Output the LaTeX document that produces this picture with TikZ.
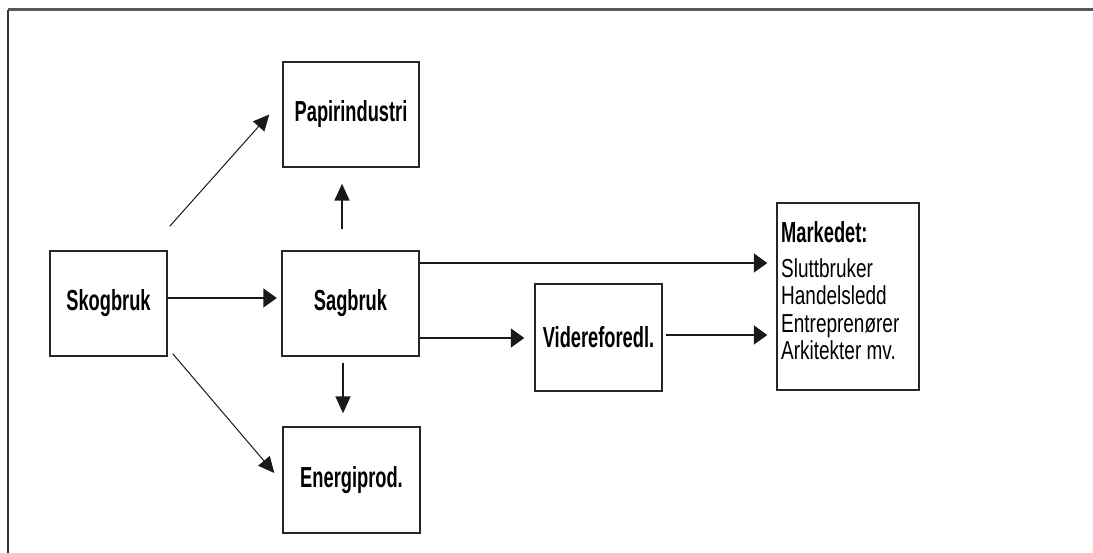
\documentclass[tikz,border=0pt]{standalone}
\usepackage{fontspec}
\setmainfont{Liberation Sans}
\newfontfamily\bnarrow{Liberation Sans}[FakeStretch=0.63]
\newfontfamily\rnarrow{Liberation Sans}[FakeStretch=0.73]
\usetikzlibrary{arrows.meta}
\begin{document}
\begin{tikzpicture}[x=1pt,y=-1pt,
  box/.style={draw=black!85, line width=1.4pt, inner sep=0pt,
    font=\bnarrow\bfseries\fontsize{29}{30}\selectfont},
  mtb/.style={inner sep=0pt, anchor=base west, font=\bnarrow\bfseries\fontsize{29}{30}\selectfont},
  mtr/.style={inner sep=0pt, anchor=base west, font=\rnarrow\fontsize{26}{28}\selectfont},
  harr/.style={draw=black!90, line width=1.6pt, -{Triangle[length=13.5pt,width=19pt]}},
  varr/.style={draw=black!90, line width=1.6pt, -{Triangle[length=17pt,width=15pt]}},
  darr/.style={draw=black!90, line width=1pt, -{Triangle[length=16pt,width=15pt]}},
]
\useasboundingbox (0,0) rectangle (1093,553);
\fill[white] (0,0) rectangle (1093,553);
% outer frame
\draw[line width=3pt, draw=black!65] (8,10) -- (1093,10);
\draw[line width=1.2pt, draw=black!80] (8,10) -- (8,553);

% boxes
\node[box, minimum width=117pt, minimum height=105pt] (skog) at (108.5,303.5) {Skogbruk};
\node[box, minimum width=137pt, minimum height=105pt] (sag) at (350.5,303.5) {Sagbruk};
\node[box, minimum width=136pt, minimum height=105pt] (papir) at (351,114.5) {Papirindustri};
\node[box, minimum width=137pt, minimum height=106pt] (energi) at (351.5,480) {Energiprod.};
\node[box, minimum width=127pt, minimum height=107pt] (vid) at (598.5,337.5) {Videreforedl.};
\node[box, minimum width=142pt, minimum height=187pt] (mk) at (848,296.5) {};

% market text
\node[mtb] (m0) at (781,243) {Markedet:};
\node[mtr] (m1) at (781,278) {Sluttbruker};
\node[mtr] (m2) at (781,305) {Handelsledd};
\node[mtr] (m3) at (781,333) {Entreprenører};
\node[mtr] (m4) at (781,360) {Arkitekter mv.};

% connectors
\draw[harr] ([shift={(0,-5.5)}]skog.east) -- ([shift={(-4.5,-5.5)}]sag.west);
\draw[darr] ([shift={(2,-24)}]skog.north east) -- ([shift={(-13,0)}]papir.west);
\draw[darr] ([shift={(5,-3)}]skog.south east) -- ([shift={(-8,-7)}]energi.west);
\draw[varr] ([shift={(-8.5,-21)}]sag.north) -- ([shift={(-9,16)}]papir.south);
\draw[varr] ([shift={(-7.5,6)}]sag.south) -- ([shift={(-8.5,-13)}]energi.north);
\draw[harr] ([shift={(0,-40.5)}]sag.east) -- ([shift={(-9,-33.5)}]mk.west);
\draw[harr] ([shift={(0,34.5)}]sag.east) -- ([shift={(-10,0.5)}]vid.west);
\draw[harr] ([shift={(3,-2.5)}]vid.east) -- ([shift={(-9,38.5)}]mk.west);
\end{tikzpicture}
\end{document}
